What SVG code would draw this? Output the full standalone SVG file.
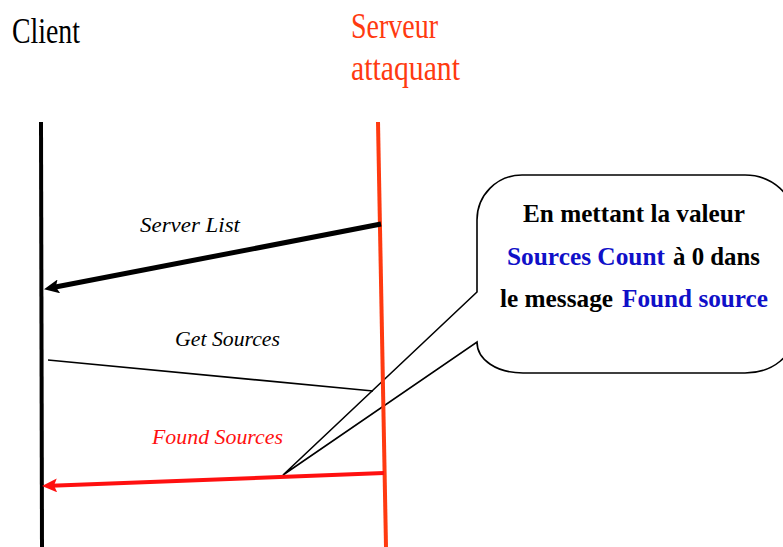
<svg xmlns="http://www.w3.org/2000/svg" width="783" height="547" viewBox="0 0 783 547">
  <style>
    .title { font-family: "Liberation Serif", "DejaVu Serif", serif; font-size: 36px; }
    .msg { font-family: "Liberation Serif", "DejaVu Serif", serif; font-style: italic; font-size: 22px; }
    .note { font-family: "Liberation Serif", "DejaVu Serif", serif; font-weight: bold; font-size: 25px; fill: #000; }
    .blue { fill: #1010c8; }
    .life { fill: none; stroke-width: 4; }
  </style>
  <defs>
    <marker id="headBlack" markerUnits="userSpaceOnUse" markerWidth="16" markerHeight="14" viewBox="0 0 16 14" refX="6" refY="7" orient="auto">
      <path d="M0,0 L15,7 L0,14 L3,7 Z" fill="#000"/>
    </marker>
    <marker id="headRed" markerUnits="userSpaceOnUse" markerWidth="16" markerHeight="14" viewBox="0 0 16 14" refX="6" refY="7" orient="auto">
      <path d="M0,0 L15,7 L0,14 L3,7 Z" fill="#ff1010"/>
    </marker>
  </defs>
  <rect width="783" height="547" fill="#fff"/>

  <!-- callout bubble -->
  <g id="note">
    <path d="M 522,175 L 745,175 C 772,175 795,195 795,222 L 795,330 C 795,356 772,373 745,373 L 523,373 C 497,373 477,360 477,342 L 283,475 L 477,292 L 477,220 C 477,195 497,175 522,175 Z" fill="#fff" stroke="#000" stroke-width="1.6"/>
    <text class="note" x="523" y="222" textLength="222" lengthAdjust="spacingAndGlyphs">En mettant la valeur</text>
    <text class="note blue" x="507" y="265" textLength="158" lengthAdjust="spacingAndGlyphs">Sources Count</text>
    <text class="note" x="673" y="265" textLength="87" lengthAdjust="spacingAndGlyphs">à 0 dans</text>
    <text class="note" x="500" y="307" textLength="113" lengthAdjust="spacingAndGlyphs">le message</text>
    <text class="note blue" x="622" y="307" textLength="146" lengthAdjust="spacingAndGlyphs">Found source</text>
  </g>

  <!-- lifelines -->
  <g id="client">
    <text class="title" x="12" y="43" textLength="68" lengthAdjust="spacingAndGlyphs">Client</text>
    <line class="life" x1="41" y1="122" x2="42" y2="547" stroke="#000"/>
  </g>
  <g id="server">
    <text class="title" x="351" y="38" fill="#ff3a10" textLength="87" lengthAdjust="spacingAndGlyphs">Serveur</text>
    <text class="title" x="351" y="80" fill="#ff3a10" textLength="109" lengthAdjust="spacingAndGlyphs">attaquant</text>
    <line class="life" x1="378" y1="122" x2="386" y2="547" stroke="#ff3a10"/>
  </g>

  <!-- messages -->
  <g id="connectors">
    <line x1="381" y1="224" x2="52.9" y2="287.5" stroke="#000" stroke-width="5" marker-end="url(#headBlack)"/>
    <line x1="48" y1="360" x2="373" y2="391" stroke="#000" stroke-width="1.6"/>
    <line x1="384" y1="473" x2="51" y2="485.7" stroke="#ff1010" stroke-width="4" marker-end="url(#headRed)"/>
  </g>
  <g id="labels">
    <text class="msg" x="140" y="232" textLength="100" lengthAdjust="spacingAndGlyphs">Server List</text>
    <text class="msg" x="175" y="346" textLength="105" lengthAdjust="spacingAndGlyphs">Get Sources</text>
    <text class="msg" x="152" y="444" fill="#ff1010" textLength="131" lengthAdjust="spacingAndGlyphs">Found Sources</text>
  </g>
</svg>
